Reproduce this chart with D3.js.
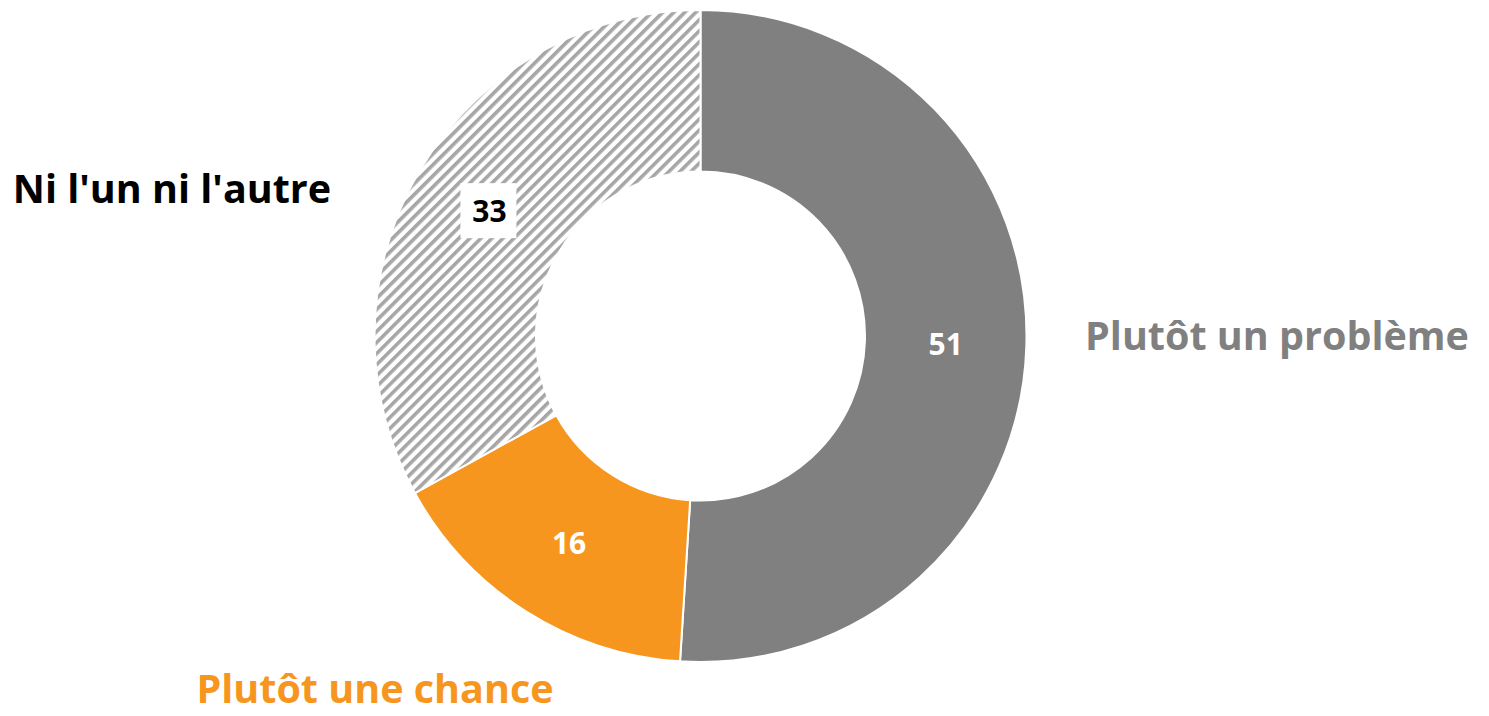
<!DOCTYPE html>
<html>
<head>
<meta charset="utf-8">
<script src="https://cdn.jsdelivr.net/npm/d3@7"></script>
<style>
  body { margin: 0; background: #fff; }
  text { font-family: "Open Sans", Lato, sans-serif; font-weight: bold; }
</style>
</head>
<body>
<div id="donut"></div>
<script>
// data
var categories = ["Plutôt un problème", "Plutôt une chance", "Ni l'un ni l'autre"];
var values = [51, 16, 33];
var colors = ["#808080", "#f7961e", "url(#hatch)"];
var labelColors = ["#ffffff", "#ffffff", "#000000"];
var catColors = ["#808080", "#f7961e", "#000000"];

var width = 1489, height = 716;
var cx = 700.5, cy = 336;
var outer = 326, inner = 164.5;

var svg = d3.select("#donut")
  .append("svg")
    .attr("width", width)
    .attr("height", height);

var defs = svg.append("defs");
var pat = defs.append("pattern")
    .attr("id", "hatch")
    .attr("patternUnits", "userSpaceOnUse")
    .attr("width", 7.8)
    .attr("height", 7.8)
    .attr("patternTransform", "rotate(45)");
pat.append("rect")
    .attr("width", 7.8).attr("height", 7.8)
    .attr("fill", "#ffffff");
pat.append("rect")
    .attr("x", 0).attr("width", 3.6).attr("height", 7.8)
    .attr("fill", "#a6a6a6");

var pie = d3.pie().sort(null).value(function(d){ return d; });
var arc = d3.arc().innerRadius(inner).outerRadius(outer);
var arcs = pie(values);

var g = svg.append("g")
    .attr("transform", "translate(" + cx + "," + cy + ")");

g.selectAll("path")
  .data(arcs)
  .enter()
  .append("path")
    .attr("d", arc)
    .attr("fill", function(d, i){ return colors[i]; })
    .attr("stroke", "#ffffff")
    .attr("stroke-width", 2);

// value labels
var vl = g.selectAll(".val")
  .data(arcs)
  .enter()
  .append("g")
    .attr("transform", function(d){ return "translate(" + arc.centroid(d) + ")"; });

vl.filter(function(d, i){ return i == 2; })
  .append("rect")
    .attr("x", -29).attr("y", -28)
    .attr("width", 56).attr("height", 55)
    .attr("fill", "#ffffff");

vl.append("text")
    .text(function(d){ return d.data; })
    .attr("text-anchor", "middle")
    .attr("dy", "0.36em")
    .attr("font-size", 30)
    .attr("fill", function(d, i){ return labelColors[i]; });

// category labels
var catPos = [[1277, 350], [375, 703], [172, 203]];
svg.append("g")
  .selectAll("text")
  .data(categories)
  .enter()
  .append("text")
    .text(function(d){ return d; })
    .attr("x", function(d, i){ return catPos[i][0]; })
    .attr("y", function(d, i){ return catPos[i][1]; })
    .attr("text-anchor", "middle")
    .attr("font-size", 39.5)
    .attr("fill", function(d, i){ return catColors[i]; });
</script>
</body>
</html>
